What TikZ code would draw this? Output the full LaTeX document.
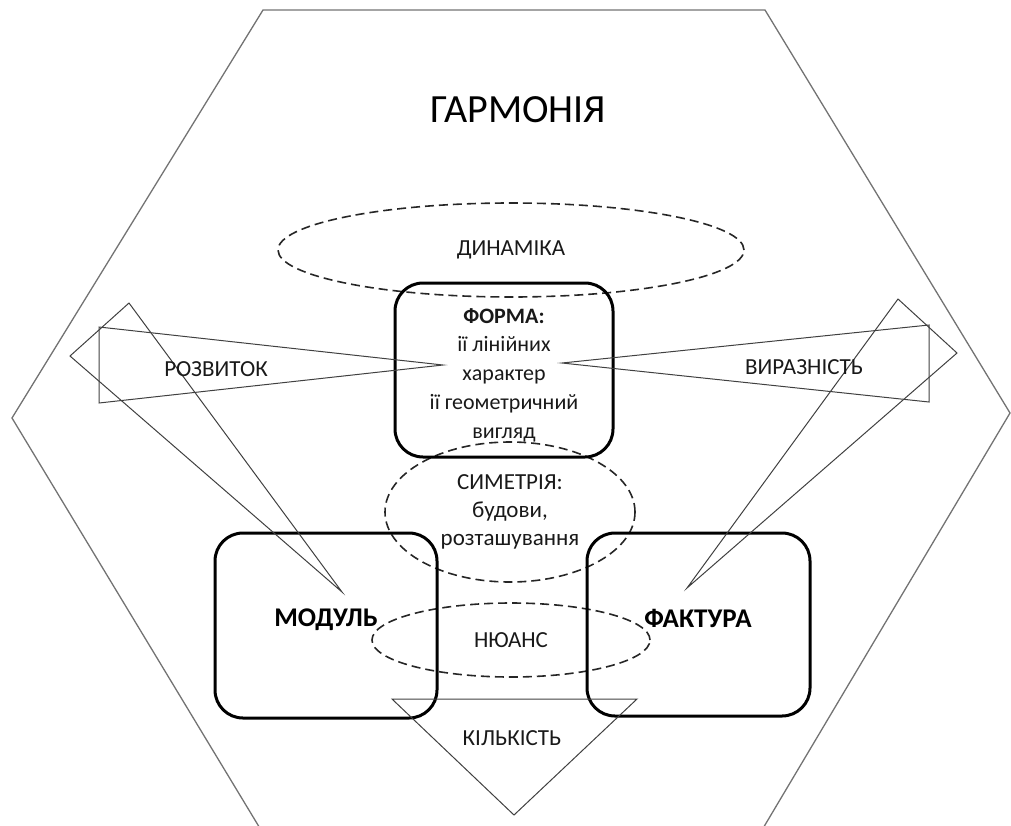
\documentclass[tikz,border=0pt]{standalone}
\usepackage{fontspec}
\setmainfont{Carlito}
\usetikzlibrary{shapes.geometric}
\begin{document}
\begin{tikzpicture}[x=1pt,y=-1pt,
  hexline/.style={draw=black!55, line width=1.3pt, line join=miter},
  tri/.style={draw=black!75, line width=1pt, line join=miter},
  roundbox/.style={draw=black, line width=3pt, rounded corners=28pt, rectangle, inner sep=0pt},
  dashell/.style={draw=black!85, line width=1.6pt, dash pattern=on 9pt off 5pt, ellipse, inner sep=0pt},
  lbl/.style={font=\fontsize{23}{28}\selectfont, text=black!90, inner sep=0pt},
  boldlbl/.style={font=\fontsize{27}{32}\selectfont\bfseries, text=black, inner sep=0pt},
]
\useasboundingbox (0,0) rectangle (1011,825);
\clip (0,0) rectangle (1011,825);

% hexagon
\draw[hexline] (263,10) -- (765,10) -- (1010,413) -- (762,830) -- (261,830) -- (12,418) -- cycle;

% title
\node[font=\fontsize{40}{48}\selectfont, text=black, inner sep=0pt] (title) at (518,110) {ГАРМОНІЯ};

% dashed ellipses
\node[dashell, minimum width=466pt, minimum height=94pt, lbl] (dyn) at (511,250) {ДИНАМІКА};
\node[dashell, minimum width=250pt, minimum height=140pt, lbl, align=center] (sym) at (510,512) {СИМЕТРІЯ:\\будови,\\розташування};
\node[dashell, minimum width=278pt, minimum height=74pt, lbl] (nuans) at (511,640) {НЮАНС};

% rounded boxes
\node[roundbox, minimum width=218pt, minimum height=174pt] (forma) at (504,370) {};
\node[lbl, font=\fontsize{22}{28.7}\selectfont, align=center] (formatxt) at (504,375)
  {\textbf{ФОРМА:}\\ії лінійних\\характер\\ії геометричний\\вигляд};
\node[roundbox, minimum width=222pt, minimum height=185pt] (modul) at (326,625.5) {};
\node[roundbox, minimum width=223pt, minimum height=183pt] (faktura) at (698.5,624.5) {};
\node[boldlbl] (modultxt) at (326,620) {МОДУЛЬ};
\node[boldlbl] (fakturatxt) at (698,618) {ФАКТУРА};

% triangles
\draw[tri] (99,327) -- (99,403) -- (443,365) -- cycle;
\draw[tri] (129,303) -- (70,356) -- (342,592) -- cycle;
\draw[tri] (929,325) -- (929,402) -- (562,363) -- cycle;
\draw[tri] (898,299) -- (957,353) -- (687,588) -- cycle;
\draw[tri] (392,699) -- (637,699) -- (514,815) -- cycle;

% side labels
\node[lbl] (rozv) at (216,369) {РОЗВИТОК};
\node[lbl] (vyraz) at (804,367) {ВИРАЗНІСТЬ};
\node[lbl] (kilk) at (512,738) {КІЛЬКІСТЬ};
\end{tikzpicture}
\end{document}
